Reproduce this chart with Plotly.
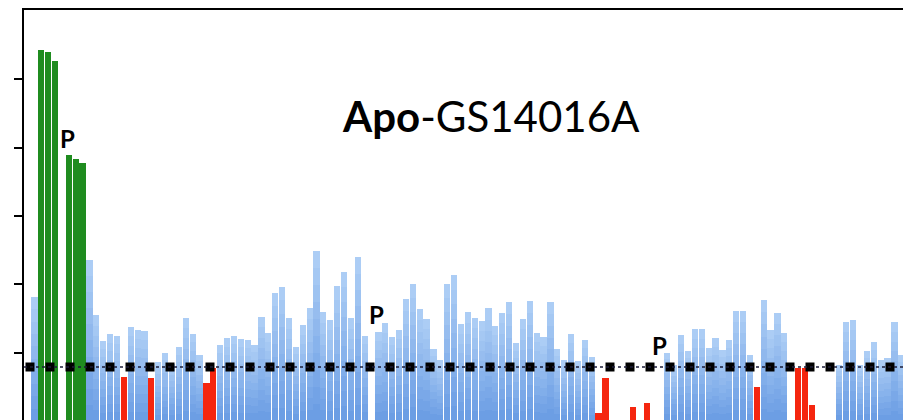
import numpy as np
import plotly.graph_objects as go

# ---------------- data ----------------
residues = list(range(127))
protection = [
    1.819, 5.428, 5.394, 5.267, None, 3.892, 3.829, 3.770, 2.356, 1.551,
    1.170, 1.273, 1.248, 0.644, 1.380, 1.331, 1.317, 0.622, 0.863, 0.999,
    0.834, 1.078, 1.514, 1.277, 0.970, 0.552, 0.771, 1.108, 1.210, 1.244,
    1.195, 1.185, 1.119, 1.522, 1.287, 1.877, 1.965, 1.503, 1.087, 1.405,
    1.658, 2.492, 1.590, 1.478, 1.975, 2.184, 1.503, 2.395, 1.244, None,
    1.307, 1.429, 1.229, 1.327, 1.782, 2.000, 1.634, 1.497, 1.049, 0.897,
    2.001, 2.136, 1.416, 1.599, 1.514, 1.466, 1.649, 1.393, 1.585, 1.745,
    1.146, 1.488, 1.756, 1.283, 1.225, 1.745, 1.049, 0.892, 1.273, 0.881,
    1.185, 0.941, 0.110, 0.625, None, None, None, 0.209, None, 0.259,
    None, None, 1.002, 0.819, 1.258, 1.024, 1.339, 1.339, 1.064, 1.210,
    1.039, 1.185, 1.614, 1.614, 0.966, 0.502, 1.766, 1.327, 1.576, 1.283,
    None, 0.775, 0.775, 0.241, None, None, None, 0.819, 1.453, 1.478,
    0.819, 1.029, 1.152, 0.892, 0.926, 1.453, 0.966,
]
green_residues = [1, 2, 3, 5, 6, 7]
proline_residues = [4, 49, 91]
threshold = 0.79
tick_values = [1, 2, 3, 4, 5]
title_bold = "Apo"
title_rest = "-GS14016A"

# ---------------- styling ----------------
BAR_W = 0.9
X_RANGE = [-1.512, 126.25]
Y_RANGE = [0.0146, 6.013]
label_pos = {4: (4.75, 4.14), 49: (49.75, 1.56), 91: (90.9, 1.11)}

blue_v, green_v, red_v = [], [], []
for r, v in zip(residues, protection):
    b = g = rd = None
    if v is not None:
        if r in green_residues:
            g = v
        elif v < threshold:
            rd = v
        else:
            b = v
    blue_v.append(b)
    green_v.append(g)
    red_v.append(rd)

fig = go.Figure()

# blue bars with a vertical light-to-dark gradient (layered fractions of each bar)
top_c = np.array([172, 205, 245])
bot_c = np.array([108, 158, 228])
fracs = np.linspace(1.0, 0.1, 10)
for i, f in enumerate(fracs):
    t = i / (len(fracs) - 1)
    c = top_c * (1 - t) + bot_c * t
    col = "rgb(%d,%d,%d)" % tuple(c.round().astype(int))
    fig.add_trace(go.Bar(
        x=residues,
        y=[None if v is None else v * f for v in blue_v],
        width=BAR_W, marker=dict(color=col, line=dict(width=0)),
        hoverinfo="skip", showlegend=False))

fig.add_trace(go.Bar(x=residues, y=green_v, width=BAR_W,
                     marker=dict(color="#1f8c1f", line=dict(width=0)),
                     showlegend=False))
fig.add_trace(go.Bar(x=residues, y=red_v, width=BAR_W,
                     marker=dict(color="#f5260f", line=dict(width=0)),
                     showlegend=False))

# threshold line (dashed) with square markers
fig.add_shape(type="line", xref="x", yref="y",
              x0=X_RANGE[0], x1=X_RANGE[1], y0=threshold, y1=threshold,
              line=dict(color="#1c1c38", width=1.6, dash="3px,3px"), layer="above")
step = 20 / 6.88
mx = np.arange(-0.64, X_RANGE[1], step)
fig.add_trace(go.Scatter(x=mx, y=[threshold] * len(mx), mode="markers",
                         marker=dict(symbol="square", size=9, color="black"),
                         showlegend=False, hoverinfo="skip"))

# proline labels
for r in proline_residues:
    px, py = label_pos[r]
    fig.add_annotation(x=px, y=py, xref="x", yref="y", text="<b>P</b>",
                       showarrow=False, xanchor="center", yanchor="middle",
                       font=dict(family="Lato", size=24, color="black"))

# title
fig.add_annotation(x=0.531, y=0.742, xref="paper", yref="paper",
                   text="<b>%s</b>%s" % (title_bold, title_rest),
                   showarrow=False, xanchor="center", yanchor="middle",
                   font=dict(family="Lato", size=42, color="black"))

fig.update_layout(
    width=903, height=420,
    margin=dict(l=24, r=0, t=10, b=0),
    paper_bgcolor="white", plot_bgcolor="white",
    barmode="overlay", bargap=0,
    showlegend=False,
    xaxis=dict(range=X_RANGE, side="top", showline=True, linecolor="black",
               linewidth=2, showgrid=False, zeroline=False, ticks="",
               showticklabels=False),
    yaxis=dict(range=Y_RANGE, showline=True, linecolor="black", linewidth=2,
               showgrid=False, zeroline=False, ticks="outside", ticklen=8,
               tickwidth=2, tickcolor="black", tickvals=tick_values,
               showticklabels=False),
)

fig.write_html("out.html")
